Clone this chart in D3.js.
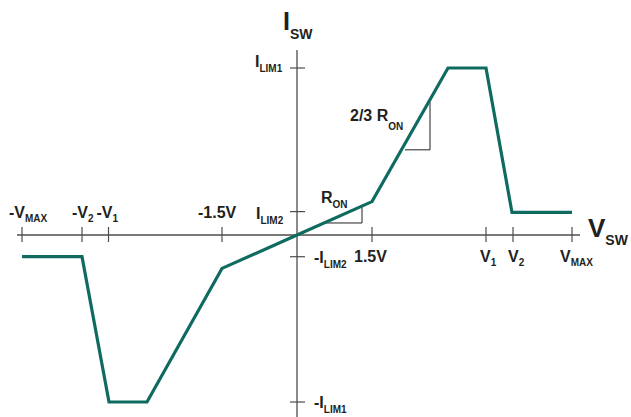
<!DOCTYPE html>
<html>
<head>
<meta charset="utf-8">
<script src="https://cdn.jsdelivr.net/npm/d3@7"></script>
<style>
  html, body { margin: 0; padding: 0; background: #fff; }
  text { font-family: "Liberation Sans", Arial, sans-serif; font-weight: bold; fill: #231f20; }
</style>
</head>
<body>
<div id="chart"></div>
<script>
'use strict';

// Data (V in volts-ish units, I relative to ILIM1)
const xTickVals = [-5.5, -4.3, -3.77, -1.5, 1.5, 3.78, 4.32, 5.5];
const xTickMain = ['-V', '-V', '-V', '-1.5V', '1.5V', 'V', 'V', 'V'];
const xTickSub = ['MAX', '2', '1', '', '', '1', '2', 'MAX'];

const yTickVals = [1, 0.14, -0.13, -1];
const yTickMain = ['I', 'I', '-I', '-I'];
const yTickSub = ['LIM1', 'LIM2', 'LIM2', 'LIM1'];

const curveV = [-5.5, -4.3, -3.76, -3.0, -1.5, 0, 1.5, 3.02, 3.78, 4.3, 5.5];
const curveI = [-0.13, -0.13, -1, -1, -0.2, 0, 0.2, 1, 1, 0.135, 0.135];

// slope triangles: [x0, x1], [yBase, yTop]
const ronTriV = [0.56, 1.3];
const ronTriI = [0.072, 0.173];
const ron23TriV = [2.16, 2.66];
const ron23TriI = [0.51, 0.795];

// Config
const w = 631, h = 417;
const svg = d3.select('#chart').append('svg')
    .attr('width', w)
    .attr('height', h);

const x = d3.scaleLinear().domain([-5.5, 5.5]).range([22, 572]);
const y = d3.scaleLinear().domain([-1, 1]).range([402, 68]);

const axisCol = '#4d4d4d';
const x0 = x(0), y0 = y(0);

// label helper: main text + subscript
function label(px, py, main, sub, opts) {
    const o = Object.assign({size: 16, subSize: 10, subDy: 5}, opts || {});
    const t = svg.append('text')
        .attr('x', px)
        .attr('y', py);
    t.append('tspan')
        .style('font-size', `${o.size}px`)
        .text(main);
    if (sub) {
        t.append('tspan')
            .style('font-size', `${o.subSize}px`)
            .attr('dy', o.subDy)
            .text(sub);
    }
    return t;
}

// Axes lines
svg.append('line')
    .attr('x1', x(-5.6)).attr('x2', x(5.66))
    .attr('y1', y0).attr('y2', y0)
    .attr('stroke', axisCol).attr('stroke-width', 1.3);
svg.append('line')
    .attr('x1', x0).attr('x2', x0)
    .attr('y1', y(1.108)).attr('y2', h)
    .attr('stroke', axisCol).attr('stroke-width', 1.3);

// x ticks
svg.selectAll('.xTick')
    .data(xTickVals)
    .join('line')
    .attr('class', 'xTick')
    .attr('x1', d => x(d)).attr('x2', d => x(d))
    .attr('y1', y0 - 8).attr('y2', y0 + 7)
    .attr('stroke', axisCol).attr('stroke-width', 1.2);

// y ticks
svg.selectAll('.yTick')
    .data(yTickVals)
    .join('line')
    .attr('class', 'yTick')
    .attr('x1', x0 - 7).attr('x2', x0 + 8)
    .attr('y1', d => y(d)).attr('y2', d => y(d))
    .attr('stroke', axisCol).attr('stroke-width', 1.2);

// x tick labels
const xLabOff = [-13, -10, -12, -24, -18, -6, -5, -12];
xTickVals.forEach((v, i) => {
    const py = v < 0 ? y0 - 17 : y0 + 27;
    label(x(v) + xLabOff[i], py, xTickMain[i], xTickSub[i], {subDy: 4});
});

// y tick labels
const yLabX = [x0 - 42, x0 - 41, x0 + 17, x0 + 17];
const yLabDy = [-1, 7, 6, 6];
yTickVals.forEach((v, i) => {
    label(yLabX[i], y(v) + yLabDy[i], yTickMain[i], yTickSub[i], {subDy: 5});
});

// axis titles
label(x0 - 14, 30, 'I', 'SW', {size: 25, subSize: 14, subDy: 9});
label(x(5.82), y0 + 2, 'V', 'SW', {size: 26, subSize: 14, subDy: 8});

// slope triangles
const tri = (tv, ti) => [
    [x(tv[0]), y(ti[0])],
    [x(tv[1]), y(ti[0])],
    [x(tv[1]), y(ti[1])]
];
[[ronTriV, ronTriI], [ron23TriV, ron23TriI]].forEach(([tv, ti]) => {
    svg.append('path')
        .attr('d', d3.line()(tri(tv, ti)))
        .attr('fill', 'none')
        .attr('stroke', '#231f20')
        .attr('stroke-width', 1);
});
label(x(0.48), y(0.192), 'R', 'ON', {subDy: 5});
label(x(1.06), y(0.68), '2/3 R', 'ON', {subDy: 9});

// curve
const line = d3.line()
    .x(d => x(d[0]))
    .y(d => y(d[1]));
svg.append('path')
    .attr('d', line(d3.zip(curveV, curveI)))
    .attr('fill', 'none')
    .attr('stroke', '#0f6b5f')
    .attr('stroke-width', 3.2)
    .attr('stroke-linejoin', 'miter');
</script>
</body>
</html>
